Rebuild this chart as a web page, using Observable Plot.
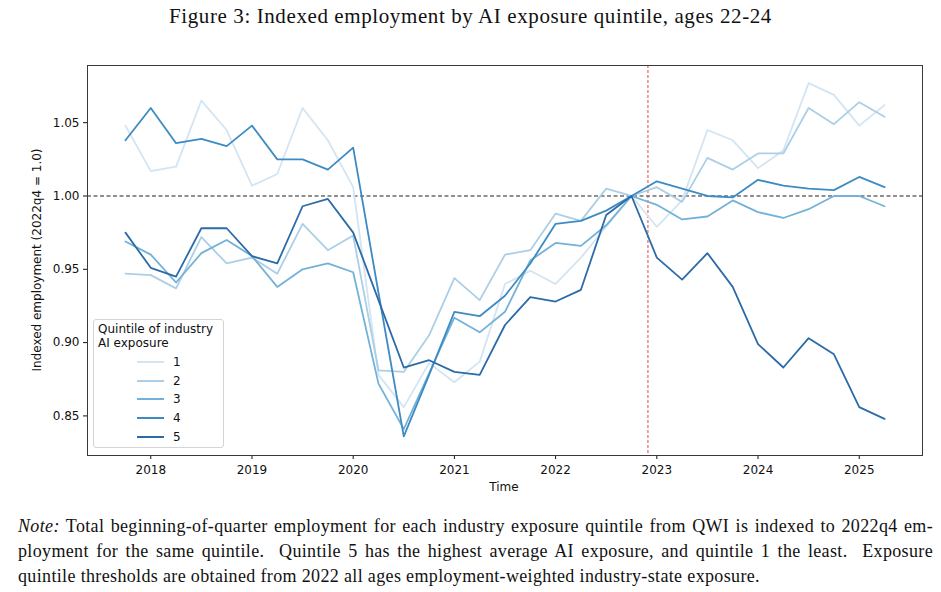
<!DOCTYPE html>
<html>
<head>
<meta charset="utf-8">
<script src="https://cdn.jsdelivr.net/npm/d3@7"></script>
<script src="https://cdn.jsdelivr.net/npm/@observablehq/plot@0.6"></script>
<style>
  html, body { margin: 0; padding: 0; background: #fff; }
  #page { position: relative; width: 941px; height: 592px; overflow: hidden; background: #fff; }
  #title { position: absolute; top: 3px; left: 0; width: 941px; text-align: center;
    font-family: "Liberation Serif", "DejaVu Serif", serif; font-size: 21px; letter-spacing: 0.6px; line-height: 26px; color: #111; }
  #chart { position: absolute; top: 40px; left: 0; }
  #ylabel { position: absolute; left: 37px; top: 260px; transform: translate(-50%, -50%) rotate(-90deg);
    font-family: "DejaVu Sans", sans-serif; font-size: 12px; white-space: nowrap; color: #111; }
  #xlabel { position: absolute; left: 504px; top: 487px; transform: translate(-50%, -50%);
    font-family: "DejaVu Sans", sans-serif; font-size: 12px; color: #111; }
  #legend { position: absolute; left: 93px; top: 319px; width: 131px; height: 129px; box-sizing: border-box;
    border: 1px solid #d4d4d4; border-radius: 3px; background: rgba(255,255,255,0.85);
    font-family: "DejaVu Sans", sans-serif; font-size: 12px; color: #111; }
  #legend .lt { position: absolute; left: 4px; top: 2px; line-height: 14px; }
  #legend .row { position: absolute; left: 0; height: 16px; width: 130px; }
  #legend .sw { position: absolute; left: 43px; top: 7px; width: 27px; height: 2px; }
  #legend .lab { position: absolute; left: 79px; top: 0px; line-height: 16px; }
  #note { position: absolute; left: 18px; top: 514px; width: 915px;
    font-family: "Liberation Serif", "DejaVu Serif", serif; font-size: 18px; letter-spacing: 0.35px; line-height: 25px; color: #111; }
  #note .j { text-align: justify; text-align-last: justify; white-space: nowrap; }
</style>
</head>
<body>
<div id="page">
  <div id="title">Figure 3: Indexed employment by AI exposure quintile, ages 22-24</div>
  <div id="chart"></div>
  <div id="ylabel">Indexed employment (2022q4 = 1.0)</div>
  <div id="xlabel">Time</div>
  <div id="legend"></div>
  <div id="note">
    <div class="j"><i>Note:</i> Total beginning-of-quarter employment for each industry exposure quintile from QWI is indexed to 2022q4 em-</div>
    <div class="j">ployment for the same quintile.&nbsp; Quintile 5 has the highest average AI exposure, and quintile 1 the least.&nbsp; Exposure</div>
    <div>quintile thresholds are obtained from 2022 all ages employment-weighted industry-state exposure.</div>
  </div>
</div>
<script>
const quarters = ["2017q4",
  "2018q1","2018q2","2018q3","2018q4",
  "2019q1","2019q2","2019q3","2019q4",
  "2020q1","2020q2","2020q3","2020q4",
  "2021q1","2021q2","2021q3","2021q4",
  "2022q1","2022q2","2022q3","2022q4",
  "2023q1","2023q2","2023q3","2023q4",
  "2024q1","2024q2","2024q3","2024q4",
  "2025q1","2025q2"];

const quintile1 = [1.048, 1.017, 1.020, 1.065, 1.045, 1.007, 1.015, 1.060, 1.038, 1.006,
  0.878, 0.856, 0.886, 0.873, 0.887, 0.940, 0.949, 0.940, 0.958, 0.979, 1.000,
  0.979, 0.997, 1.045, 1.038, 1.019, 1.031, 1.077, 1.069, 1.048, 1.062];
const quintile2 = [0.947, 0.946, 0.937, 0.972, 0.954, 0.958, 0.947, 0.981, 0.963, 0.973,
  0.881, 0.880, 0.905, 0.944, 0.929, 0.960, 0.963, 0.988, 0.983, 1.005, 1.000,
  1.006, 0.996, 1.026, 1.018, 1.029, 1.029, 1.060, 1.049, 1.064, 1.054];
const quintile3 = [0.969, 0.960, 0.941, 0.961, 0.970, 0.959, 0.938, 0.950, 0.954, 0.948,
  0.872, 0.841, 0.879, 0.917, 0.907, 0.921, 0.956, 0.968, 0.966, 0.980, 1.000,
  0.994, 0.984, 0.986, 0.997, 0.989, 0.985, 0.991, 1.000, 1.000, 0.993];
const quintile4 = [1.038, 1.060, 1.036, 1.039, 1.034, 1.048, 1.025, 1.025, 1.018, 1.033,
  0.934, 0.836, 0.878, 0.921, 0.918, 0.932, 0.954, 0.981, 0.983, 0.990, 1.000,
  1.010, 1.005, 1.000, 0.999, 1.011, 1.007, 1.005, 1.004, 1.013, 1.006];
const quintile5 = [0.975, 0.951, 0.945, 0.978, 0.978, 0.959, 0.954, 0.993, 0.998, 0.975,
  0.929, 0.883, 0.888, 0.880, 0.878, 0.912, 0.931, 0.928, 0.936, 0.987, 1.000,
  0.958, 0.943, 0.961, 0.938, 0.899, 0.883, 0.903, 0.892, 0.856, 0.848];

const quintileNames = ["1", "2", "3", "4", "5"];
const quintileColors = ["#d3e4f3", "#abcfe6", "#73b2d8", "#3d8bc3", "#2b6ba8"];
const yTicks = [0.85, 0.90, 0.95, 1.00, 1.05];
const xTicks = [2018, 2019, 2020, 2021, 2022, 2023, 2024, 2025];
const baseline = 1.0;
const chatGPTRelease = 2022 + 333 / 365; // 30 Nov 2022

function quarterToYear(s) {
  const y = +s.slice(0, 4), q = +s.slice(5);
  return y + (q - 1) / 4;
}

const series = [quintile1, quintile2, quintile3, quintile4, quintile5];
const rows = [];
series.forEach((vals, k) => {
  vals.forEach((v, i) => rows.push({t: quarterToYear(quarters[i]), v, q: quintileNames[k]}));
});

const chart = Plot.plot({
  width: 941,
  height: 460,
  marginTop: 25,
  marginBottom: 45,
  marginLeft: 87,
  marginRight: 19,
  style: {fontFamily: "DejaVu Sans, sans-serif", fontSize: "12px", color: "#111", background: "transparent"},
  x: {domain: [2017.375, 2025.625]},
  y: {domain: [0.823, 1.089]},
  color: {domain: quintileNames, range: quintileColors},
  marks: [
    Plot.ruleY([baseline], {stroke: "#222", strokeWidth: 1, strokeDasharray: "4,2.5"}),
    Plot.ruleX([chatGPTRelease], {stroke: "#e8534f", strokeWidth: 1.1, strokeDasharray: "3,2"}),
    Plot.line(rows, {x: "t", y: "v", z: "q", stroke: "q", strokeWidth: 1.8, curve: "linear"}),
    Plot.axisX({ticks: xTicks, tickFormat: d => String(d), tickSize: 4, tickPadding: 6, label: null}),
    Plot.axisY({ticks: yTicks, tickFormat: d => d.toFixed(2), tickSize: 4, tickPadding: 4, label: null}),
    Plot.frame({stroke: "#3a3a3a", strokeWidth: 1})
  ]
});
document.getElementById("chart").appendChild(chart);

// legend
const lg = document.getElementById("legend");
const lt = document.createElement("div");
lt.className = "lt";
lt.innerHTML = "Quintile of industry<br>AI exposure";
lg.appendChild(lt);
quintileNames.forEach((n, i) => {
  const r = document.createElement("div");
  r.className = "row";
  r.style.top = (34 + i * 18.7) + "px";
  const sw = document.createElement("div");
  sw.className = "sw";
  sw.style.background = quintileColors[i];
  const lab = document.createElement("div");
  lab.className = "lab";
  lab.textContent = n;
  r.appendChild(sw); r.appendChild(lab);
  lg.appendChild(r);
});
</script>
</body>
</html>
